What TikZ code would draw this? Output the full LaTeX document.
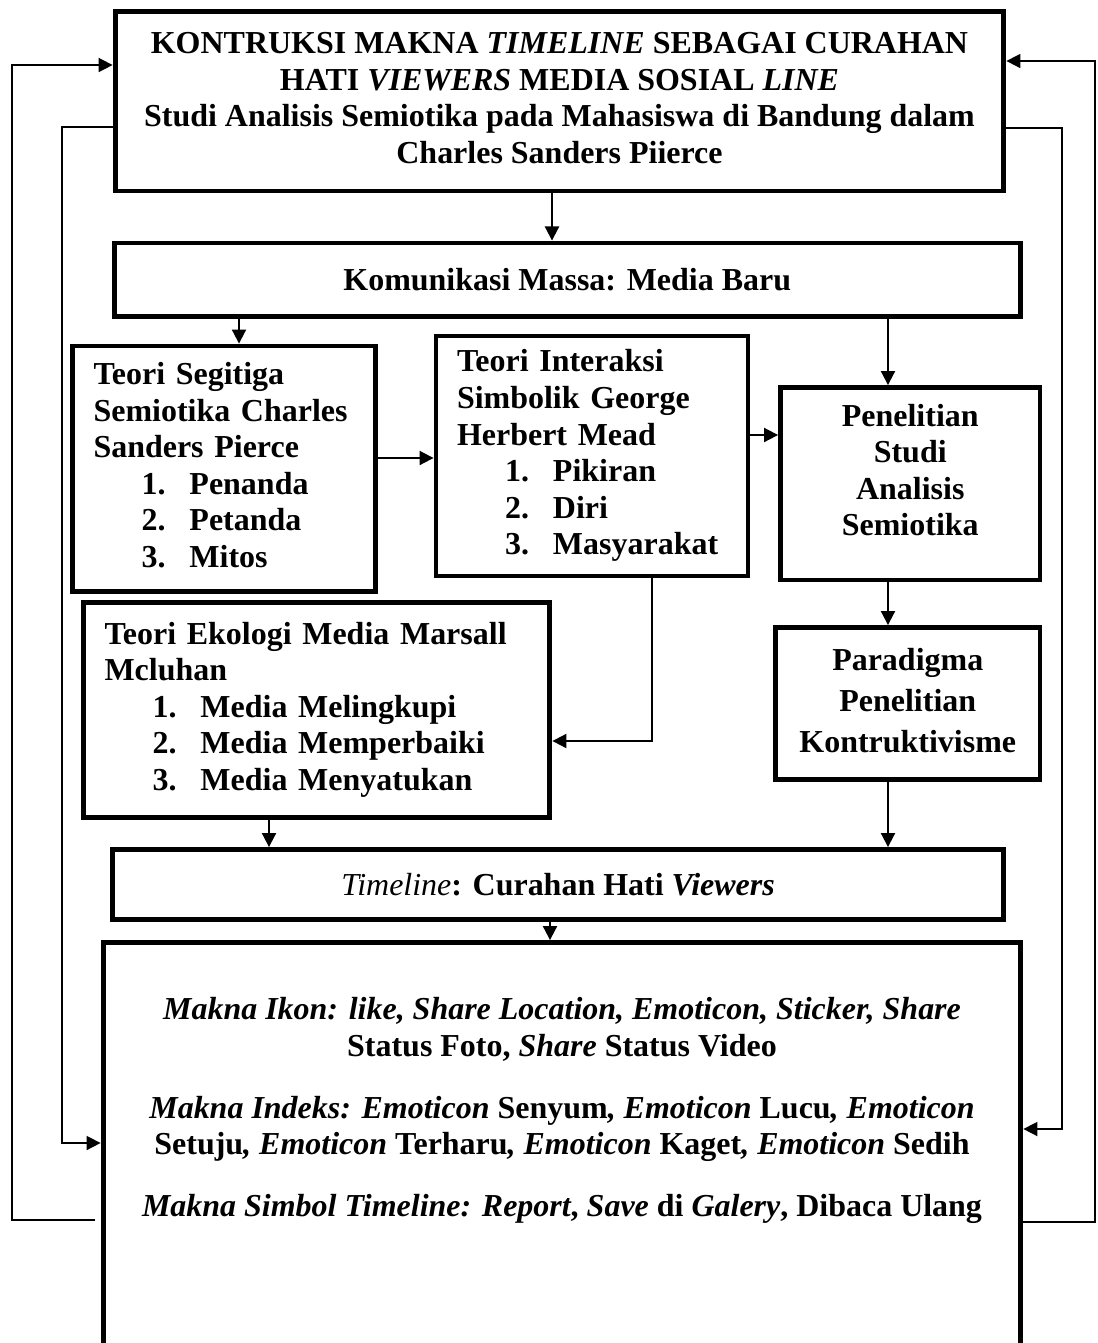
\documentclass[tikz,border=0pt]{standalone}
\usepackage{fontspec}
\setmainfont{Liberation Serif}
\usetikzlibrary{arrows.meta}
\newcommand\lit[2]{\hspace*{0.96cm}\makebox[0.96cm][l]{#1}#2}
\newcommand\mi[1]{\textit{\mdseries #1}}
\newcommand\bi[1]{\textit{#1}}
\begin{document}
\begin{tikzpicture}[x=0.02cm,y=-0.02cm,
  box/.style={draw,line width=2.8pt,inner sep=0pt,align=center,
    font=\fontsize{18.2}{20.8}\selectfont\bfseries},
  lbox/.style={box,align=left,inner xsep=0.42cm},
  arr/.style={line width=1.1pt,-{Triangle[length=8pt,width=8pt]}},
  lp/.style={line width=0.9pt,-{Triangle[length=8pt,width=8pt]}},
  ln/.style={line width=0.9pt},
  ]
\useasboundingbox (0,0) rectangle (1098,1343);

\node[box,minimum width=17.78cm,minimum height=3.59cm] (top) at (559.5,101.25)
 {\begin{tabular}{@{}c@{}}
  KONTRUKSI MAKNA \textit{TIMELINE} SEBAGAI CURAHAN\\
  HATI \textit{VIEWERS} MEDIA SOSIAL \textit{LINE}\\
  Studi Analisis Semiotika pada Mahasiswa di Bandung dalam\\
  Charles Sanders Piierce
  \end{tabular}};

\node[box,minimum width=18.13cm,minimum height=1.47cm] (kom) at (567.25,279.75)
 {Komunikasi Massa: Media Baru};

\node[lbox,text width=5.22cm,minimum width=6.06cm,minimum height=4.91cm] (seg) at (224,468.75)
 {\begin{tabular}{@{}l@{}}
  Teori Segitiga\\
  Semiotika Charles\\
  Sanders Pierce\\
  \lit{1.}{Penanda}\\
  \lit{2.}{Petanda}\\
  \lit{3.}{Mitos}
  \end{tabular}};

\node[lbox,text width=5.40cm,minimum width=6.24cm,minimum height=4.8cm] (int) at (592,456)
 {\begin{tabular}{@{}l@{}}
  Teori Interaksi\\
  Simbolik George\\
  Herbert Mead\\
  \lit{1.}{Pikiran}\\
  \lit{2.}{Diri}\\
  \lit{3.}{Masyarakat}
  \end{tabular}};

\node[box,minimum width=5.19cm,minimum height=3.85cm] (pen) at (910.25,483.75)
 {\begin{tabular}{@{}c@{}}
  Penelitian\\ Studi\\ Analisis\\ Semiotika\\[0.4cm]
  \end{tabular}};

\node[box,minimum width=5.29cm,minimum height=3.04cm] (par) at (907.75,703.5)
 {\renewcommand\arraystretch{1.12}\begin{tabular}{@{}c@{}}
  Paradigma\\ Penelitian\\ Kontruktivisme
  \end{tabular}};

\node[lbox,text width=8.49cm,minimum width=9.33cm,minimum height=4.3cm] (eko) at (316.75,710)
 {\begin{tabular}{@{}l@{}}
  Teori Ekologi Media Marsall\\
  Mcluhan\\
  \lit{1.}{Media Melingkupi}\\
  \lit{2.}{Media Memperbaiki}\\
  \lit{3.}{Media Menyatukan}
  \end{tabular}};

\node[box,minimum width=17.82cm,minimum height=1.4cm] (tim) at (558,884.5)
 {\mi{Timeline}: Curahan Hati \textit{Viewers}};

\node[box,minimum width=18.36cm,minimum height=8.55cm] (bot) at (562,1156.25) {};

\node[anchor=north,inner sep=0pt,align=center,font=\fontsize{18.2}{20.8}\selectfont\bfseries] (bt) at (562,994)
 {\begin{tabular}{@{}c@{}}
  \bi{Makna Ikon: like, Share Location, Emoticon, Sticker, Share}\\
  Status Foto, \bi{Share} Status Video\\[0.5cm]
  \bi{Makna Indeks: Emoticon} Senyum\bi{, Emoticon} Lucu\bi{, Emoticon}\\
  Setuju\bi{, Emoticon} Terharu\bi{, Emoticon} Kaget\bi{, Emoticon} Sedih\\[0.5cm]
  \bi{Makna Simbol Timeline: Report}, \bi{Save} di \bi{Galery}, Dibaca Ulang
  \end{tabular}};

% connectors between boxes
\draw[arr] (top.south -| 552,0) -- (kom.north -| 552,0);
\draw[arr] (kom.south -| 239,0) -- (seg.north -| 239,0);
\draw[arr] (kom.south -| 888,0) -- (pen.north -| 888,0);
\draw[arr] (seg.east |- 0,458) -- (int.west |- 0,458);
\draw[arr] (int.east |- 0,435) -- (pen.west |- 0,435);
\draw[arr] (pen.south -| 888,0) -- (par.north -| 888,0);
\draw[arr] (int.south -| 652,0) |- (eko.east |- 0,741);
\draw[arr] (eko.south -| 269,0) -- (tim.north -| 269,0);
\draw[arr] (par.south -| 888,0) -- (tim.north -| 888,0);
\draw[arr] (tim.south -| 550,0) -- (bot.north -| 550,0);

% outer loops
\draw[lp] ([xshift=-3pt]bot.west |- 0,1220) -| (12,65) -- (top.west |- 0,65);
\draw[lp] (top.west |- 0,127) -| (62,1143) -- (bot.west |- 0,1143);
\draw[lp] (bot.east |- 0,1222) -| (1095,61) -- (top.east |- 0,61);
\draw[lp] (top.east |- 0,128) -| (1062,1129) -- (bot.east |- 0,1129);
\end{tikzpicture}
\end{document}
